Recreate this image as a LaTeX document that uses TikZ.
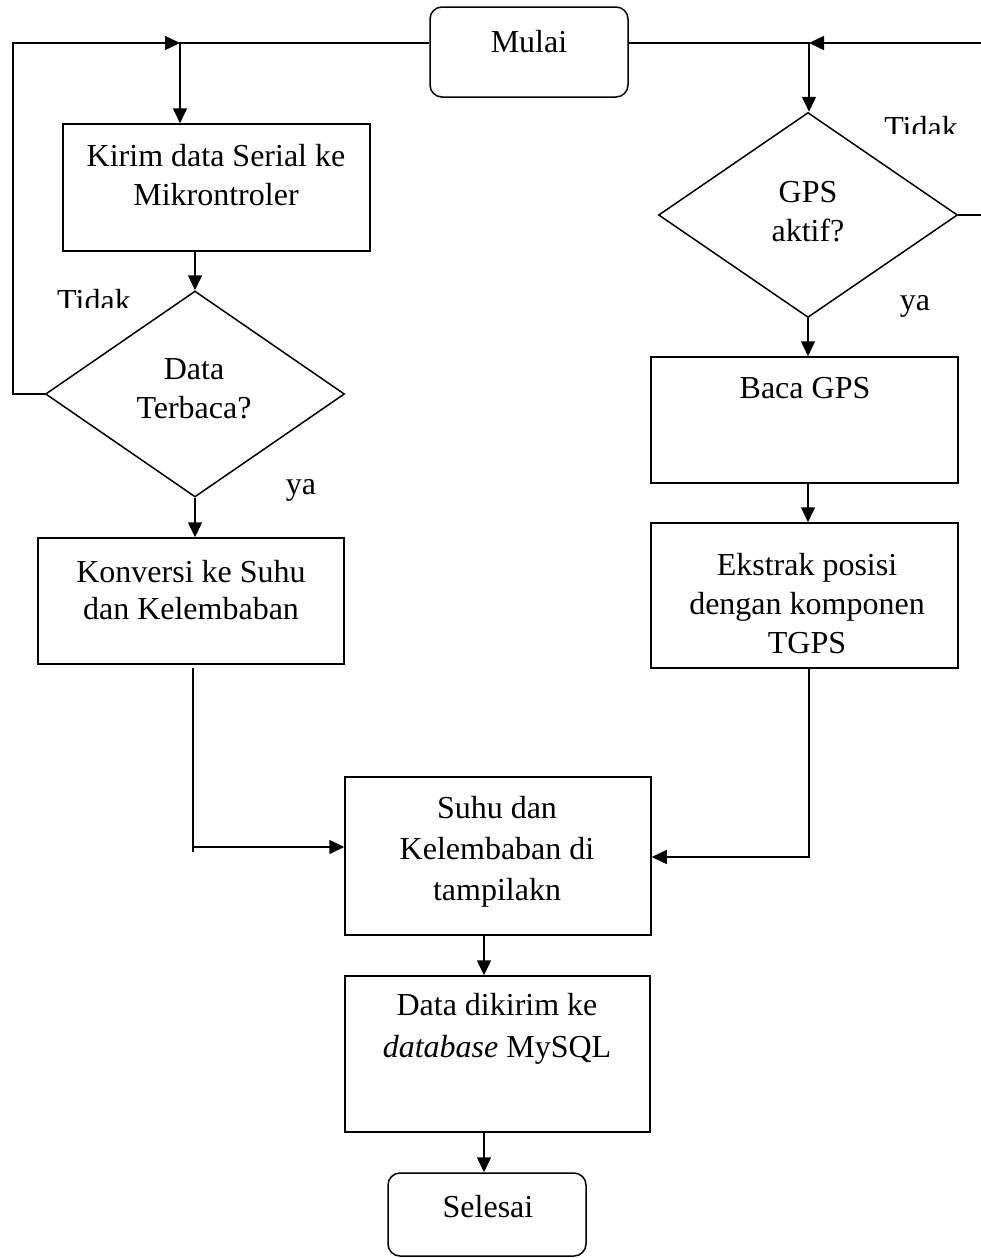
\documentclass[tikz,border=0pt]{standalone}
\usepackage{fontspec}
\setmainfont{Liberation Serif}
\usetikzlibrary{shapes.geometric,arrows.meta}
\begin{document}
\begin{tikzpicture}[x=1pt,y=-1pt,
  every node/.style={font=\fontsize{32}{39}\selectfont},
  box/.style={draw,line width=1.5pt,rectangle,inner sep=0pt},
  rbox/.style={box,rounded corners=12pt},
  dia/.style={draw,line width=1.5pt,diamond,inner sep=0pt},
  txt/.style={align=center,inner sep=0pt},
  lbl/.style={inner sep=0pt,anchor=base},
  ln/.style={line width=1.5pt},
  arr/.style={ln,-{Triangle[length=15pt,width=14pt]}}]
\fill[white] (0,0) rectangle (981,1258);
\useasboundingbox (0,0) rectangle (981,1258);
\clip (0,0) rectangle (981,1258);

% shapes
\node[rbox,minimum width=198pt,minimum height=90pt] (mulai) at (529,52) {};
\node[box,minimum width=307pt,minimum height=127pt] (kirim) at (216.5,187.5) {};
\node[dia,minimum width=299pt,minimum height=206pt] (dleft) at (195,394) {};
\node[box,minimum width=306pt,minimum height=126pt] (konv) at (191,601) {};
\node[box,minimum width=306pt,minimum height=158pt] (suhu) at (498,856) {};
\node[box,minimum width=305pt,minimum height=156pt] (data) at (497.5,1054) {};
\node[rbox,minimum width=198pt,minimum height=83pt] (selesai) at (487,1214.5) {};
\node[dia,minimum width=299pt,minimum height=205pt] (dgps) at (808,215) {};
\node[box,minimum width=307pt,minimum height=126pt] (baca) at (804.5,420) {};
\node[box,minimum width=307pt,minimum height=145pt] (ekstrak) at (804.5,595.5) {};

% texts
\node[lbl] (tmulai) at (529,52) {Mulai};
\node[txt] (tkirim) at (216,175) {Kirim data Serial ke\\Mikrontroler};
\node[txt] (tdleft) at (194,389) {Data\\Terbaca?};
\node[txt,font=\fontsize{32}{37}\selectfont] (tkonv) at (191,590) {Konversi ke Suhu\\dan Kelembaban};
\node[txt,font=\fontsize{32}{41}\selectfont] (tsuhu) at (497,852) {Suhu dan\\Kelembaban di\\tampilakn};
\node[txt,font=\fontsize{32}{42}\selectfont] (tdata) at (497,1029) {Data dikirim ke\\\textit{database} MySQL};
\node[lbl] (tsel) at (488,1217) {Selesai};
\node[txt] (tgps) at (808,212) {GPS\\aktif?};
\node[lbl] (tbaca) at (805,398) {Baca GPS};
\node[txt] (tekstrak) at (807,604) {Ekstrak posisi\\dengan komponen\\TGPS};

% branch labels
\begin{scope}
  \clip (40,280) rectangle (160,307);
  \node[lbl] (tidak1) at (94,311) {Tidak};
\end{scope}
\begin{scope}
  \clip (870,100) rectangle (976,133);
  \node[lbl] (tidak2) at (921,138) {Tidak};
\end{scope}
\node[lbl] (ya1) at (301,494) {ya};
\node[lbl] (ya2) at (915,310) {ya};

% connectors
\coordinate (jl) at (180,43);
\coordinate (tl) at (13,43);
\coordinate (jr) at (809,43);
\coordinate (tr) at (990,43);
\coordinate (br) at (990,215);
\draw[arr] (dleft.west) -| (tl) -- (jl);
\draw[arr] ([yshift=9pt]mulai.west) -- (jl) -- (jl |- kirim.north);
\draw[arr] (dgps.east) -- (br) -- (tr) -- (jr);
\draw[arr] ([yshift=9pt]mulai.east) -- (jr) -- (jr |- dgps.north);
\draw[arr] (kirim.south -| dleft.north) -- (dleft.north);
\draw[arr] (dleft.south) -- (dleft.south |- konv.north);
\coordinate (k1) at (193,668);
\coordinate (k2) at (193,852);
\coordinate (kl) at (193,847);
\draw[ln] (k1) -- (k2);
\draw[arr] (kl) -- (kl -| suhu.west);
\draw[arr] (dgps.south) -- (dgps.south |- baca.north);
\draw[arr] (baca.south -| dgps.south) -- (dgps.south |- ekstrak.north);
\coordinate (e1) at (809,669);
\coordinate (e2) at (809,857);
\draw[arr] (e1) -- (e2) -- (e2 -| suhu.east);
\coordinate (cx) at (484,0);
\draw[arr] (suhu.south -| cx) -- (data.north -| cx);
\draw[arr] (data.south -| cx) -- (selesai.north -| cx);
\end{tikzpicture}
\end{document}
